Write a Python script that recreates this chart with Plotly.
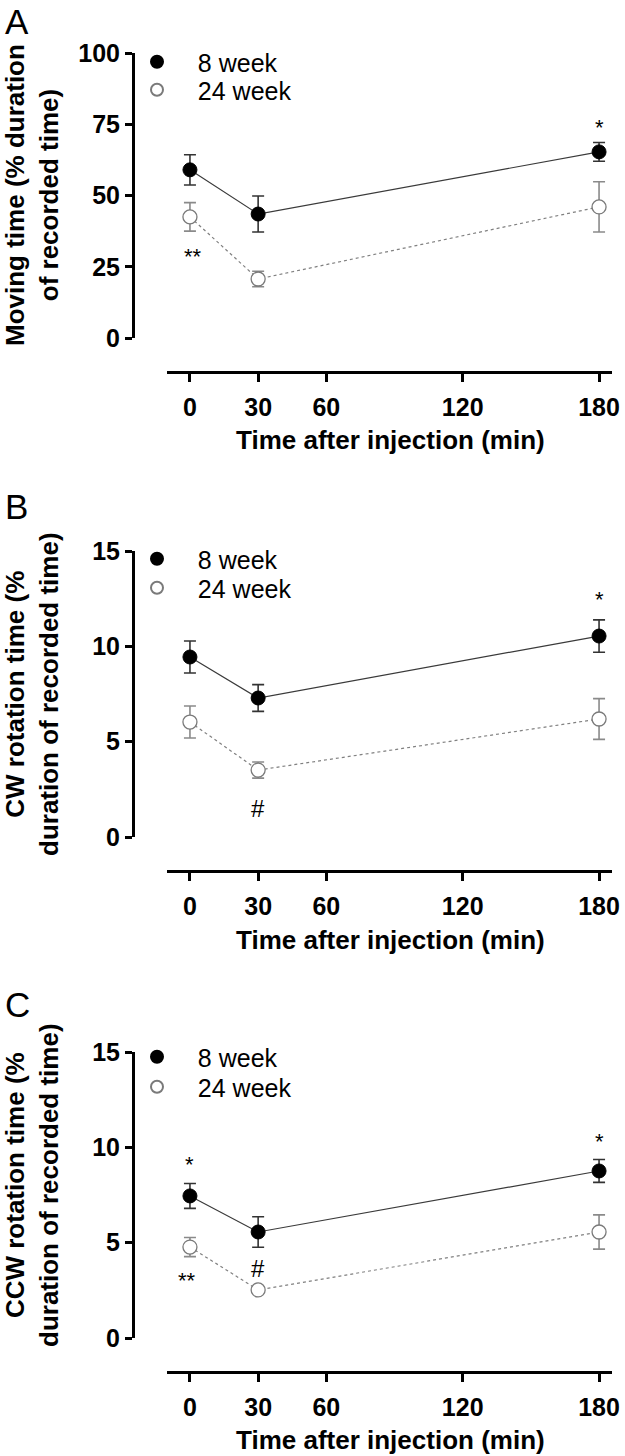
import plotly.graph_objects as go

# ---------------- data ----------------
times = [0, 30, 180]
x_ticks = [0, 30, 60, 120, 180]

A_8wk = [59.0, 43.5, 65.3]
A_8wk_err = [5.3, 6.3, 3.3]
A_24wk = [42.5, 20.7, 46.0]
A_24wk_err = [5.0, 2.7, 8.8]

B_8wk = [9.44, 7.29, 10.54]
B_8wk_err = [0.84, 0.70, 0.85]
B_24wk = [6.03, 3.51, 6.19]
B_24wk_err = [0.84, 0.42, 1.07]

C_8wk = [7.45, 5.56, 8.76]
C_8wk_err = [0.65, 0.80, 0.60]
C_24wk = [4.77, 2.52, 5.56]
C_24wk_err = [0.50, 0.10, 0.90]

A_yticks = [0, 25, 50, 75, 100]
BC_yticks = [0, 5, 10, 15]

A_marks = [(180, 73.8, "*"), (1.3, 28.5, "**")]
B_marks = [(180, 12.48, "*"), (30, 1.52, "#")]
C_marks = [(0, 9.12, "*"), (180, 10.28, "*"), (-1.3, 3.04, "**"), (30, 3.67, "#")]

series_names = ["8 week", "24 week"]
A_ytitle = "Moving time (% duration<br>of recorded time)"
B_ytitle = "CW rotation time (%<br>duration of recorded time)"
C_ytitle = "CCW rotation time (%<br>duration of recorded time)"
x_title = "Time after injection (min)"
panel_labels = ["A", "B", "C"]

# ---------------- layout helpers ----------------
W, H = 625, 1456
FONT = "Liberation Sans, Arial, Helvetica, sans-serif"


def px_x(p):
    return p / W


def px_y(p):
    return 1 - p / H


panels = [
    dict(vals8=A_8wk, err8=A_8wk_err, vals24=A_24wk, err24=A_24wk_err,
         yrange=[0, 100], yticks=A_yticks, ytop=53, ybot=338, xline=372,
         marks=A_marks, ytitle=A_ytitle, ytitle_y=195, xtitle_y=440,
         label="A", label_top=0, leg_c=[62, 90]),
    dict(vals8=B_8wk, err8=B_8wk_err, vals24=B_24wk, err24=B_24wk_err,
         yrange=[0, 15], yticks=BC_yticks, ytop=551, ybot=837, xline=871,
         marks=B_marks, ytitle=B_ytitle, ytitle_y=694, xtitle_y=940,
         label="B", label_top=485, leg_c=[559, 588]),
    dict(vals8=C_8wk, err8=C_8wk_err, vals24=C_24wk, err24=C_24wk_err,
         yrange=[0, 15], yticks=BC_yticks, ytop=1052, ybot=1338, xline=1372,
         marks=C_marks, ytitle=C_ytitle, ytitle_y=1185, xtitle_y=1440,
         label="C", label_top=983, leg_c=[1057, 1087]),
]

fig = go.Figure()
layout = dict(
    template="none",
    width=W, height=H, autosize=False,
    margin=dict(l=0, r=0, t=0, b=0, pad=0),
    paper_bgcolor="white", plot_bgcolor="white",
    font=dict(family=FONT, color="black"),
    annotations=[],
)

x_left_px, x_right_px = 167, 612
x_range = [-10.1, 185.7]
yaxis_px = 133
NB = "\u00a0" * 3
LEG_OFFSET = 23  # item centre below legend top (px)

leg_count = 0
for i, p in enumerate(panels):
    n = "" if i == 0 else str(i + 1)
    xa, ya = "x" + n, "y" + n
    leg_ids = []
    for k in range(2):
        leg_count += 1
        leg_ids.append("legend" if leg_count == 1 else "legend" + str(leg_count))

    # connecting lines (no legend entry)
    fig.add_trace(go.Scatter(
        x=times, y=p["vals8"], mode="lines", showlegend=False, hoverinfo="skip",
        xaxis=xa, yaxis=ya, line=dict(color="#3a3a3a", width=1.2),
    ))
    fig.add_trace(go.Scatter(
        x=times, y=p["vals24"], mode="lines", showlegend=False, hoverinfo="skip",
        xaxis=xa, yaxis=ya, line=dict(color="#808080", width=1.2, dash="dot"),
    ))
    # markers with error bars
    fig.add_trace(go.Scatter(
        x=times, y=p["vals8"], name=NB + series_names[0], mode="markers",
        xaxis=xa, yaxis=ya, legend=leg_ids[0],
        marker=dict(symbol="circle", size=14, color="black",
                    line=dict(color="black", width=1)),
        error_y=dict(type="data", array=p["err8"], color="#333333",
                     thickness=1.6, width=6),
        cliponaxis=False,
    ))
    fig.add_trace(go.Scatter(
        x=times, y=p["vals24"], name=NB + series_names[1], mode="markers",
        xaxis=xa, yaxis=ya, legend=leg_ids[1],
        marker=dict(symbol="circle", size=14, color="white",
                    line=dict(color="#7a7a7a", width=1.3)),
        error_y=dict(type="data", array=p["err24"], color="#8a8a8a",
                     thickness=1.6, width=6),
        cliponaxis=False,
    ))

    layout["xaxis" + n] = dict(
        domain=[px_x(x_left_px), px_x(x_right_px)],
        range=x_range, anchor="free", position=px_y(p["xline"]),
        tickvals=x_ticks, ticks="outside", ticklen=8, tickwidth=3,
        tickcolor="black", showline=True, linewidth=3, linecolor="black",
        showgrid=False, zeroline=False, automargin=False,
        tickfont=dict(family=FONT, size=25, weight="bold", color="black"),
        ticklabelstandoff=4,
    )
    layout["yaxis" + n] = dict(
        domain=[px_y(p["ybot"]), px_y(p["ytop"])],
        range=p["yrange"], anchor="free", position=px_x(yaxis_px),
        tickvals=p["yticks"], ticks="outside", ticklen=7, tickwidth=3,
        tickcolor="black", showline=True, linewidth=3, linecolor="black",
        showgrid=False, zeroline=False, automargin=False,
        tickfont=dict(family=FONT, size=25, weight="bold", color="black"),
    )
    for k in range(2):
        layout[leg_ids[k]] = dict(
            x=px_x(137), y=px_y(p["leg_c"][k] - LEG_OFFSET),
            xanchor="left", yanchor="top",
            bgcolor="rgba(0,0,0,0)", borderwidth=0,
            font=dict(family=FONT, size=25, color="black"),
            itemsizing="constant",
        )

    # significance marks
    for (mx, my, mt) in p["marks"]:
        layout["annotations"].append(dict(
            x=mx, y=my, xref=xa, yref=ya, text=mt, showarrow=False,
            font=dict(family=FONT, size=24 if mt == "#" else 22, color="black"),
        ))
    # y title
    layout["annotations"].append(dict(
        x=px_x(32), y=px_y(p["ytitle_y"]), xref="paper", yref="paper",
        text=p["ytitle"], textangle=-90, showarrow=False,
        xanchor="center", yanchor="middle",
        font=dict(family=FONT, size=26, weight="bold", color="black"),
    ))
    # x title
    layout["annotations"].append(dict(
        x=px_x(390), y=px_y(p["xtitle_y"]), xref="paper", yref="paper",
        text=x_title, showarrow=False, xanchor="center", yanchor="middle",
        font=dict(family=FONT, size=26, weight="bold", color="black"),
    ))
    # panel label
    layout["annotations"].append(dict(
        x=px_x(3), y=px_y(p["label_top"]), xref="paper", yref="paper",
        text=p["label"], showarrow=False, xanchor="left", yanchor="top",
        font=dict(family=FONT, size=35, color="black"),
    ))

fig.update_layout(**layout)
fig.write_html("out.html",
               config={"displayModeBar": False},
               post_script="document.body.style.margin='0px';")
